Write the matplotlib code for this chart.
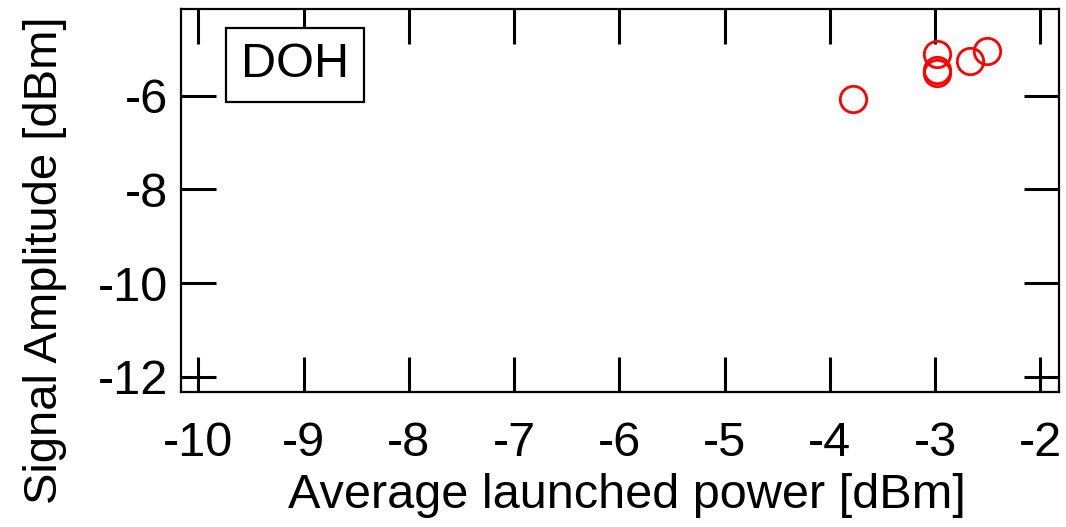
import matplotlib
matplotlib.use("Agg")
import matplotlib.pyplot as plt

plt.rcParams['font.family'] = ['Liberation Sans', 'DejaVu Sans']

# values
power = [-3.78, -2.98, -2.98, -2.98, -2.67, -2.51]
amplitude = [-6.06, -5.12, -5.45, -5.51, -5.27, -5.04]
xticks = [-10, -9, -8, -7, -6, -5, -4, -3, -2]
yticks = [-12, -10, -8, -6]

fig = plt.figure(figsize=(10.66, 5.27), dpi=100)
ax = fig.add_axes([0.1698, 0.2556, 0.8236, 0.7273])

ax.plot(power, amplitude, linestyle='none', marker='o', markersize=19,
        markerfacecolor='none', markeredgecolor='red', markeredgewidth=2)

ax.set_xlim(-10.165, -1.823)
ax.set_ylim(-12.33, -4.15)
ax.set_xticks(xticks)
ax.set_yticks(yticks)
ax.set_xticklabels([str(v) for v in xticks])
ax.set_yticklabels([str(v) for v in yticks])

ax.tick_params(direction='in', length=25, width=2.2, labelsize=35,
               top=True, right=True)
ax.tick_params(axis='x', pad=21)
ax.tick_params(axis='y', pad=9)
for s in ax.spines.values():
    s.set_linewidth(1.6)

fig.text(627 / 1066, 1 - 495 / 527, 'Average launched power [dBm]',
         fontsize=35, ha='center', va='center')
fig.text(45 / 1066, 1 - 260 / 527, 'Signal Amplitude [dBm]',
         fontsize=34, ha='center', va='center', rotation=90)

ax.text(0.130, 0.854, 'DOH', transform=ax.transAxes, fontsize=35,
        ha='center', va='center',
        bbox=dict(boxstyle='square,pad=0.3', facecolor='white',
                  edgecolor='black', linewidth=1.6))

fig.savefig('out.png', dpi=100)
